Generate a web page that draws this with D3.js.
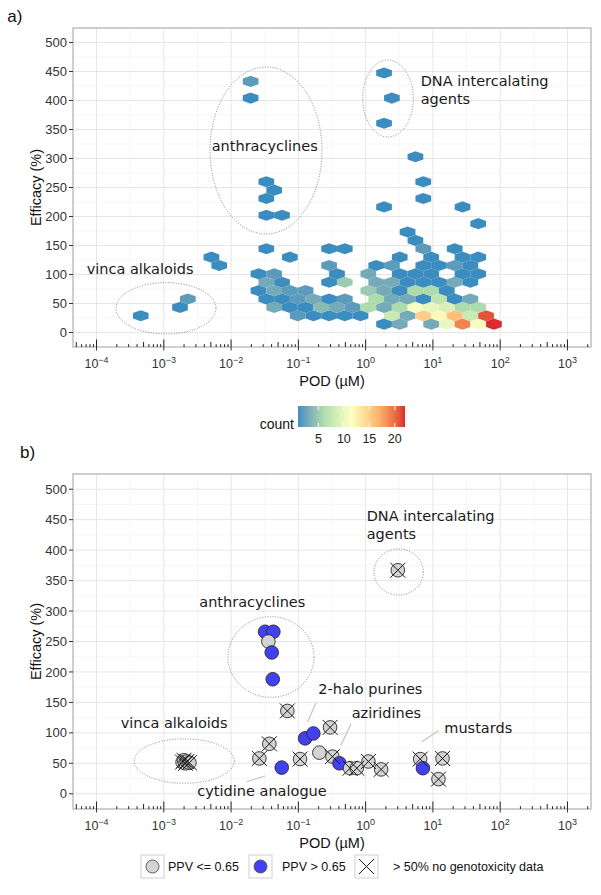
<!DOCTYPE html>
<html><head><meta charset="utf-8">
<script src="https://cdn.jsdelivr.net/npm/d3@7"></script>
<style>body{margin:0;background:#fff}</style>
</head><body>
<svg id="chart" width="601" height="895" xmlns="http://www.w3.org/2000/svg"></svg>
<script>
// ---------------- DATA ----------------
const xTickExponents = [-4, -3, -2, -1, 0, 1, 2, 3];
const yTickValues = [0, 50, 100, 150, 200, 250, 300, 350, 400, 450, 500];
const countBreaks = [5, 10, 15, 20];
const countLimits = [1, 22];

// panel a: hexbin cells (row / column index on the hexbin grid, count)
const hexOriginLog = -3.343;        // log10 POD of first bin centre
const hexBinWidthLog = 7 / 30;      // bin width (log10 units)
const hexRowStepEff = 500 / 30 * Math.sqrt(3) / 2; // row step (efficacy %)
const hexRow = [
  1,1,1,1,1,1,1,
  2,2,2,2,2,2,2,2,2,2,2,2,2,
  3,3,3,3,3,3,3,3,3,3,3,3,3,3,3,
  4,4,4,4,4,4,4,4,4,4,4,4,4,4,
  5,5,5,5,5,5,5,5,5,5,
  6,6,6,6,6,6,6,6,6,6,6,
  7,7,7,7,7,7,7,7,7,
  8,8,8,8,8,8,8,8,
  9,9,9,9,9,9,
  10,10,10,10,10,
  11,12,13,14,14,15,15,16,16,17,18,18,21,25,28,28,30,31];
const hexCol = [
  15,16,18,19,20,21,22,
  0,10,11,12,13,14,16,17,18,19,20,21,22,
  2,8,9,10,11,12,13,14,15,16,17,18,19,20,21,
  3,8,9,10,11,12,13,15,16,17,18,19,20,21,
  7,8,9,10,14,15,16,17,18,19,
  8,9,12,13,15,16,17,18,19,20,21,
  7,8,12,14,16,17,18,20,21,
  5,12,15,16,18,19,20,21,
  4,9,16,18,20,21,
  8,12,13,18,20,
  17,17,21,8,9,15,20,8,18,8,8,18,17,15,7,16,7,15];
const hexCount = [
  1,3,3,10,19,11,22,
  1,2,1,1,1,1,8,3,15,12,16,8,21,
  1,3,1,1,4,3,2,6,3,6,11,10,9,6,6,
  2,1,1,2,3,1,2,6,3,3,1,7,1,3,
  1,3,2,2,5,3,1,6,6,1,
  3,1,1,5,3,3,1,1,1,3,1,
  1,2,1,3,1,1,1,1,1,
  1,2,1,2,1,1,2,1,
  1,1,1,1,1,1,
  1,1,1,2,1,
  1,1,1,1,1,1,1,1,1,1,1,1,1,1,1,1,2,1];

// panel b: compounds
const podB = [0.0320, 0.0425, 0.0358, 0.0402, 0.0416, 0.0686, 0.037, 0.0263, 0.0566, 0.106,
              0.126, 0.167, 0.296, 0.205, 0.321, 0.408, 0.587, 0.739, 1.10, 1.70,
              6.47, 7.10, 13.9, 12.1, 3.01, 0.0019, 0.0020, 0.0021, 0.0022, 0.0024];
const effB = [266, 266, 250, 232, 188, 136, 82, 58, 43, 57,
              91, 99, 109, 67.5, 61, 50, 42, 42, 53, 40,
              57, 42, 58, 24, 367, 52, 55, 50, 53, 51];
const ppvHighB = [1,1,0,1,1,0,0,0,1,0, 1,1,0,0,0,1,0,0,0,0, 0,1,0,0,0,0,0,0,0,0];
const noGenoB  = [0,0,0,0,0,1,1,1,0,1, 0,0,1,0,1,0,1,1,1,1, 1,0,1,1,1,1,1,1,1,1];

const legendLabelsB = ["PPV <= 0.65", "PPV > 0.65", "> 50% no genotoxicity data"];

// ---------------- LAYOUT ----------------
const svg = d3.select("#chart");
const L = 73, R = 591;
const panels = [{top: 28, bottom: 347, label: "a)", ly: 21.7, lx: 7.3},
                {top: 474, bottom: 809, label: "b)", ly: 457.5, lx: 20}];
const x = d3.scaleLog().domain([Math.pow(10, -4.35), Math.pow(10, 3.35)]).range([L, R]);
const ys = panels.map(p => d3.scaleLinear().domain([-25, 525]).range([p.bottom, p.top]));

const axisFont = "'Liberation Sans', Arial, sans-serif";
const annFont = "'DejaVu Sans', Verdana, sans-serif";

svg.append("rect").attr("width", 601).attr("height", 895).attr("fill", "#fff");

function drawFrame(p, y) {
  const g = svg.append("g");
  // panel background
  g.append("rect").attr("x", L).attr("y", p.top).attr("width", R - L).attr("height", p.bottom - p.top).attr("fill", "#fff");
  // minor grid
  for (let d = -5; d <= 3; d++) {
    const v = Math.pow(10, d + 0.5);
    const px = x(v);
    if (px > L && px < R) g.append("line").attr("x1", px).attr("x2", px).attr("y1", p.top).attr("y2", p.bottom)
      .attr("stroke", "#f2f2f2").attr("stroke-width", 0.6);
  }
  for (let v = 25; v < 525; v += 50) {
    g.append("line").attr("x1", L).attr("x2", R).attr("y1", y(v)).attr("y2", y(v))
      .attr("stroke", "#f2f2f2").attr("stroke-width", 0.6);
  }
  // major grid
  xTickExponents.forEach(e => {
    const px = x(Math.pow(10, e));
    g.append("line").attr("x1", px).attr("x2", px).attr("y1", p.top).attr("y2", p.bottom)
      .attr("stroke", "#e6e6e6").attr("stroke-width", 1);
  });
  yTickValues.forEach(v => {
    g.append("line").attr("x1", L).attr("x2", R).attr("y1", y(v)).attr("y2", y(v))
      .attr("stroke", "#e6e6e6").attr("stroke-width", 1);
  });
  return g;
}

function drawAxes(p, y) {
  const g = svg.append("g");
  // border
  g.append("rect").attr("x", L).attr("y", p.top).attr("width", R - L).attr("height", p.bottom - p.top)
    .attr("fill", "none").attr("stroke", "#b5b5b5").attr("stroke-width", 1.3);
  // log ticks (annotation)
  for (let d = -5; d <= 3; d++) {
    for (let m = 1; m <= 9; m++) {
      const px = x(m * Math.pow(10, d));
      if (px < L || px > R) continue;
      const len = m === 1 ? 7.5 : (m === 5 ? 5 : 2.8);
      g.append("line").attr("x1", px).attr("x2", px).attr("y1", p.bottom).attr("y2", p.bottom - len)
        .attr("stroke", "#222").attr("stroke-width", 1);
    }
  }
  // x axis ticks + labels
  xTickExponents.forEach(e => {
    const px = x(Math.pow(10, e));
    g.append("line").attr("x1", px).attr("x2", px).attr("y1", p.bottom).attr("y2", p.bottom + 3.5)
      .attr("stroke", "#333").attr("stroke-width", 1);
    const t = g.append("text").attr("x", px).attr("y", p.bottom + 21).attr("text-anchor", "middle")
      .attr("font-family", axisFont).attr("font-size", 12.5).attr("fill", "#333");
    t.append("tspan").text("10");
    t.append("tspan").attr("dy", -5.5).attr("font-size", 9).text(e < 0 ? "\u2212" + Math.abs(e) : String(e));
  });
  // y axis ticks + labels
  yTickValues.forEach(v => {
    g.append("line").attr("x1", L - 4).attr("x2", L).attr("y1", y(v)).attr("y2", y(v))
      .attr("stroke", "#333").attr("stroke-width", 1);
    g.append("text").attr("x", L - 6).attr("y", y(v) + 4.6).attr("text-anchor", "end")
      .attr("font-family", axisFont).attr("font-size", 13).attr("fill", "#333").text(v);
  });
  // axis titles
  g.append("text").attr("x", (L + R) / 2).attr("y", p.bottom + 38.6).attr("text-anchor", "middle")
    .attr("font-family", axisFont).attr("font-size", 14.5).attr("fill", "#111").text("POD (\u00b5M)");
  const cy = (p.top + p.bottom) / 2;
  g.append("text").attr("transform", `translate(40.7,${cy}) rotate(-90)`).attr("text-anchor", "middle")
    .attr("font-family", axisFont).attr("font-size", 14.5).attr("fill", "#111").text("Efficacy (%)");
  // panel label
  svg.append("text").attr("x", p.lx).attr("y", p.ly).attr("font-family", axisFont).attr("font-size", 17)
    .attr("fill", "#111").text(p.label);
}

function ann(text, xx, yy) {
  svg.append("text").attr("x", xx).attr("y", yy).attr("font-family", annFont).attr("font-size", 14.5)
    .attr("fill", "#1a1a1a").text(text);
}
function ell(cx, cy, rx, ry) {
  svg.append("ellipse").attr("cx", cx).attr("cy", cy).attr("rx", rx).attr("ry", ry)
    .attr("fill", "none").attr("stroke", "#777").attr("stroke-width", 0.9).attr("stroke-dasharray", "1,1.6");
}
function leader(x1, y1, x2, y2) {
  svg.append("line").attr("x1", x1).attr("y1", y1).attr("x2", x2).attr("y2", y2)
    .attr("stroke", "#c4c4c4").attr("stroke-width", 1.2);
}

// ---------------- PANEL A ----------------
const colorScale = d3.scaleLinear()
  .domain([1, 6.25, 11.5, 16.75, 22])
  .range(["#2b83ba", "#abdda4", "#ffffbf", "#fdae61", "#d7191c"])
  .interpolate(d3.interpolateLab).clamp(true);

const pa = panels[0], ya = ys[0];
drawFrame(pa, ya);
const hexG = svg.append("g");
const dyEff = hexRowStepEff / Math.sqrt(3) / 2 * 1.15;
hexCount.forEach((c, i) => {
  const r = hexRow[i], k = hexCol[i];
  const lx = hexOriginLog + hexBinWidthLog * (k + (r % 2 === 1 ? 0.5 : 0));
  const cx = x(Math.pow(10, lx));
  const cy = ya(r * hexRowStepEff);
  const dx = x(Math.pow(10, lx + hexBinWidthLog / 2)) - cx;
  const dy = ya(0) - ya(dyEff);
  const pts = [[dx, -dy], [dx, dy], [0, 2 * dy], [-dx, dy], [-dx, -dy], [0, -2 * dy]]
    .map(q => [cx + q[0], cy + q[1]]);
  hexG.append("path").attr("d", "M" + pts.map(q => q.join(",")).join("L") + "Z")
    .attr("fill", colorScale(c)).attr("fill-opacity", 0.92).attr("stroke", "none");
});
drawAxes(pa, ya);

ell(266, 150.5, 56, 83.5);
ell(388, 98.5, 25.3, 38.5);
ell(166, 308.3, 50, 25.7);
ann("anthracyclines", 211.7, 151);
ann("DNA intercalating", 420.7, 86);
ann("agents", 420.7, 104);
ann("vinca alkaloids", 86.7, 273.5);

// colour bar legend
const cbX0 = 298, cbX1 = 405, cbY0 = 406, cbY1 = 427;
const cb = d3.scaleLinear().domain(countLimits).range([cbX0, cbX1]);
const grad = svg.append("defs").append("linearGradient").attr("id", "cbgrad")
  .attr("x1", "0%").attr("x2", "100%").attr("y1", "0%").attr("y2", "0%");
d3.range(0, 1.0001, 0.05).forEach(t => {
  const v = countLimits[0] + t * (countLimits[1] - countLimits[0]);
  grad.append("stop").attr("offset", (t * 100) + "%").attr("stop-color", colorScale(v)).attr("stop-opacity", 0.92);
});
svg.append("rect").attr("x", cbX0).attr("y", cbY0).attr("width", cbX1 - cbX0).attr("height", cbY1 - cbY0)
  .attr("fill", "url(#cbgrad)");
countBreaks.forEach(b => {
  svg.append("line").attr("x1", cb(b)).attr("x2", cb(b)).attr("y1", cbY0).attr("y2", cbY0 + 4).attr("stroke", "#fff").attr("stroke-width", 1);
  svg.append("line").attr("x1", cb(b)).attr("x2", cb(b)).attr("y1", cbY1 - 4).attr("y2", cbY1).attr("stroke", "#fff").attr("stroke-width", 1);
  svg.append("text").attr("x", cb(b)).attr("y", 442.5).attr("text-anchor", "middle")
    .attr("font-family", axisFont).attr("font-size", 12.5).attr("fill", "#222").text(b);
});
svg.append("text").attr("x", 294).attr("y", 428.5).attr("text-anchor", "end")
  .attr("font-family", axisFont).attr("font-size", 14).attr("fill", "#111").text("count");

// ---------------- PANEL B ----------------
const pb = panels[1], yb = ys[1];
drawFrame(pb, yb);
const ptG = svg.append("g");
podB.forEach((v, i) => {
  ptG.append("circle").attr("cx", x(v)).attr("cy", yb(effB[i])).attr("r", 6.8)
    .attr("fill", ppvHighB[i] ? "#4141f2" : "#d3d3d3").attr("stroke", "#2a2a2a").attr("stroke-width", 0.9);
});
podB.forEach((v, i) => {
  if (!noGenoB[i]) return;
  const cx = x(v), cy = yb(effB[i]), h = 7.5;
  ptG.append("path").attr("d", `M${cx - h},${cy - h}L${cx + h},${cy + h}M${cx - h},${cy + h}L${cx + h},${cy - h}`)
    .attr("stroke", "#1a1a1a").attr("stroke-width", 1).attr("fill", "none");
});
drawAxes(pb, yb);

ann("DNA intercalating", 366.7, 520.7);
ann("agents", 366.7, 538.5);
ell(398.7, 572, 24.7, 23);
ann("anthracyclines", 199.3, 607);
ell(271, 657, 43, 40.3);
ann("vinca alkaloids", 120.7, 727.5);
ell(184.3, 761, 50, 22.2);
ann("2-halo purines", 318.3, 694.3);
leader(316, 703, 307.5, 722);
ann("aziridines", 351.7, 718);
leader(351, 724, 341, 745);
ann("mustards", 444.3, 733);
leader(438.3, 731, 421.7, 741.7);
ann("cytidine analogue", 197.3, 795.5);
leader(246.7, 781.7, 265, 776);

// legend panel b
const keyX = [141, 249, 355], textX = [168, 282, 393];
const keyY0 = 855, keyS = 23;
legendLabelsB.forEach((lab, i) => {
  svg.append("rect").attr("x", keyX[i]).attr("y", keyY0).attr("width", keyS).attr("height", keyS)
    .attr("fill", "#fff").attr("stroke", "#cfcfcf").attr("stroke-width", 1);
  const cx = keyX[i] + keyS / 2, cy = keyY0 + keyS / 2;
  if (i < 2) {
    svg.append("circle").attr("cx", cx).attr("cy", cy).attr("r", 6.5)
      .attr("fill", i === 1 ? "#4141f2" : "#d3d3d3").attr("stroke", "#555").attr("stroke-width", 0.9);
  } else {
    const h = 7.5;
    svg.append("path").attr("d", `M${cx - h},${cy - h}L${cx + h},${cy + h}M${cx - h},${cy + h}L${cx + h},${cy - h}`)
      .attr("stroke", "#1a1a1a").attr("stroke-width", 1);
  }
  svg.append("text").attr("x", textX[i]).attr("y", cy + 4.5).attr("font-family", axisFont)
    .attr("font-size", 12.5).attr("fill", "#111").text(lab);
});
</script>
</body></html>
